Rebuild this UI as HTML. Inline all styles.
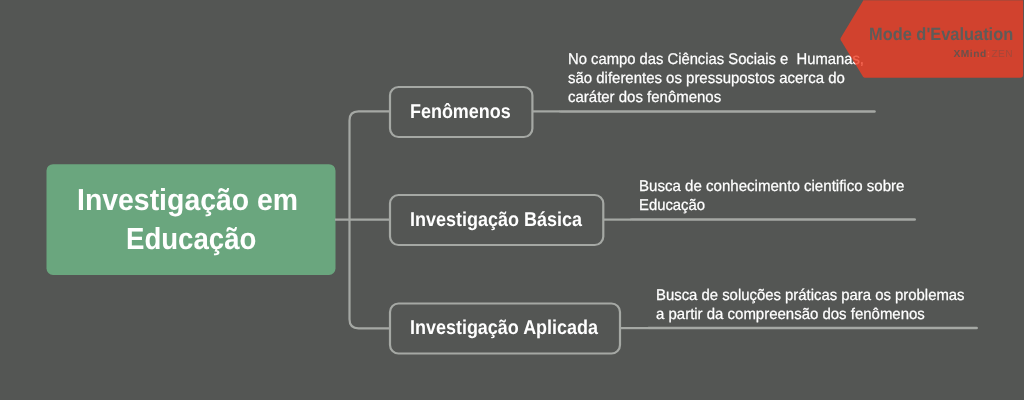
<!DOCTYPE html>
<html lang="pt">
<head>
<meta charset="utf-8">
<title>Investigação em Educação</title>
<style>
html,body{margin:0;padding:0;}
body{width:1024px;height:400px;overflow:hidden;background:#545654;font-family:"Liberation Sans",sans-serif;position:relative;}
svg{position:absolute;left:0;top:0;}
#txt,#wm{position:absolute;left:0;top:0;width:1024px;height:400px;will-change:transform;}
.t{position:absolute;color:#fff;white-space:nowrap;line-height:20px;transform-origin:0 0;text-rendering:geometricPrecision;}
.r{font-weight:bold;font-size:30.4px;}
.n{font-weight:bold;font-size:20px;}
.l{font-size:15.5px;-webkit-text-stroke:0.25px #fff;}
</style>
</head>
<body>
<svg width="1024" height="400" viewBox="0 0 1024 400">
  <rect x="46.5" y="164.2" width="289" height="110.8" rx="6.5" fill="#6aa67e"/>
  <g fill="none" stroke="#a5a8a4" stroke-width="2.2">
    <path d="M335 219.600 H390"/>
    <path d="M390 111.400 H358.500 Q349.500 111.400 349.500 120.400 V319.300 Q349.500 328.300 358.500 328.300 H390"/>
    <path d="M533 111.400 H560"/>
    <path d="M604 219.600 H631"/>
    <path d="M620 328.100 H648"/>
    <rect x="390" y="87" width="142.400" height="50" rx="8.500"/>
    <rect x="390" y="195" width="213.300" height="50" rx="8.500"/>
    <rect x="390" y="303.500" width="230" height="50" rx="8.500"/>
  </g>
  <g fill="none" stroke="#a5a8a4" stroke-width="2.5" stroke-linecap="round">
    <path d="M560.500 111.400 H874.500"/>
    <path d="M631.500 219.500 H914.700"/>
    <path d="M648.500 328 H976.700"/>
  </g>
</svg>
<div id="txt">
<div class="t r" style="left:76.8px;top:190px;transform:scaleX(0.935)">Investigação em</div>
<div class="t r" style="left:125.7px;top:229px;transform:scaleX(0.908)">Educação</div>
<div class="t n" style="left:409.6px;top:102px;transform:scaleX(0.897)">Fenômenos</div>
<div class="t n" style="left:409.6px;top:210px;transform:scaleX(0.899)">Investigação Básica</div>
<div class="t n" style="left:409.6px;top:318px;transform:scaleX(0.898)">Investigação Aplicada</div>
<div class="t l" style="left:567.8px;top:50px;transform:scaleX(0.954)">No campo das Ciências Sociais e&nbsp; Humanas,</div>
<div class="t l" style="left:567.8px;top:69px;transform:scaleX(0.965)">são diferentes os pressupostos acerca do</div>
<div class="t l" style="left:567.8px;top:88px;transform:scaleX(0.966)">caráter dos fenômenos</div>
<div class="t l" style="left:639.2px;top:177px;transform:scaleX(0.972)">Busca de conhecimento cientifico sobre</div>
<div class="t l" style="left:639.2px;top:196px;transform:scaleX(0.958)">Educação</div>
<div class="t l" style="left:656.4px;top:286px;transform:scaleX(0.96)">Busca de soluções práticas para os problemas</div>
<div class="t l" style="left:656.4px;top:305px;transform:scaleX(0.966)">a partir da compreensão dos fenômenos</div>
</div>
<svg width="1024" height="400" viewBox="0 0 1024 400">
  <path d="M864.200 0.3 H1023.100 V74.700 Q1023.100 77.700 1020.100 77.700 H865.200 Q863.700 77.700 862.900 76.400 L840.800 40.200 Q840.100 39 840.800 37.800 L863.400 0.3 Z" fill="#f03d24" fill-opacity="0.8"/>
</svg>
<div id="wm">
<div class="t w" style="left:868.8px;top:24px;font-size:17.7px;font-weight:bold;color:#5d5c59;transform:scaleX(0.927);">Mode d'Evaluation</div>
<div class="t w" style="left:953.4px;top:45px;font-size:10.2px;font-weight:bold;color:#6b514b;letter-spacing:0.55px;">XMind</div>
<div class="t w" style="left:986.8px;top:44.5px;font-size:10.2px;font-weight:bold;color:#e2573e;">:</div>
<div class="t w" style="left:991.6px;top:45px;font-size:10.2px;color:#a4483a;letter-spacing:0.3px;">ZEN</div>
</div>
</body>
</html>
